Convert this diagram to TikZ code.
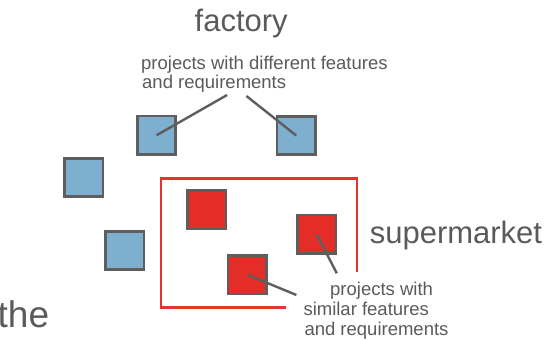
\documentclass[tikz,border=0pt]{standalone}
\usepackage{fontspec}
\setmainfont{Liberation Sans}
\definecolor{txtgray}{HTML}{5A5A5A}
\definecolor{edgegray}{HTML}{5E5E5E}
\definecolor{bluefill}{HTML}{7FAFCE}
\definecolor{redfill}{HTML}{E52D27}
\definecolor{redline}{HTML}{E8332C}
\begin{document}
\begin{tikzpicture}[x=1pt,y=-1pt,
  proj/.style={draw=edgegray,line width=2.6pt,minimum size=38.5pt,inner sep=0pt,outer sep=0pt},
  bluesq/.style={proj,fill=bluefill},
  redsq/.style={proj,fill=redfill},
  lead/.style={draw=edgegray,line width=2.4pt},
  frame/.style={draw=redline,line width=2.4pt},
  bigtxt/.style={text=txtgray,inner sep=0pt,anchor=base west,font=\fontsize{31}{36}\selectfont},
  smalltxt/.style={text=txtgray,inner sep=0pt,anchor=base west,font=\fontsize{18.5}{19}\selectfont}]
\useasboundingbox (0,0) rectangle (560,340);
% red frame (open at bottom right)
\coordinate (fr1) at (357,272);
\coordinate (fr2) at (357,178.3);
\coordinate (fr3) at (160.7,178.3);
\coordinate (fr4) at (160.7,307.3);
\coordinate (fr5) at (285.7,307.3);
\draw[frame] (fr1) -- (fr2) -- (fr3) -- (fr4) -- (fr5);
% squares
\node[bluesq] (b1) at (156.5,135.3) {};
\node[bluesq] (b2) at (296.2,135.5) {};
\node[bluesq] (b3) at (83.9,177.5) {};
\node[bluesq] (b4) at (124.8,250.5) {};
\node[redsq] (r1) at (206.6,209.8) {};
\node[redsq] (r2) at (316.6,234.2) {};
\node[redsq] (r3) at (247.3,274.7) {};
% texts
\node[bigtxt] (factory) at (194.5,31.7) {factory};
\node[bigtxt] (super) at (369.6,243) {supermarket};
\node[bigtxt,font=\fontsize{37}{40}\selectfont] (the) at (-2.5,327) {the};
\node[smalltxt] (top1) at (141,69.3) {projects with different features};
\node[smalltxt] (top2) at (142,88.3) {and requirements};
\node[smalltxt] (bot1) at (330,295) {projects with};
\node[smalltxt] (bot2) at (303.3,315) {similar features};
\node[smalltxt] (bot3) at (304.3,335) {and requirements};
% leader lines
\coordinate (t1) at (227.1,95);
\coordinate (t2) at (246.4,96);
\coordinate (u1) at (336.8,273.3);
\coordinate (u2) at (296.4,295);
\draw[lead] (b1.center) -- (t1);
\draw[lead] (t2) -- (b2.center);
\draw[lead] (r2.center) -- (u1);
\draw[lead] (r3.center) -- (u2);
\end{tikzpicture}
\end{document}
